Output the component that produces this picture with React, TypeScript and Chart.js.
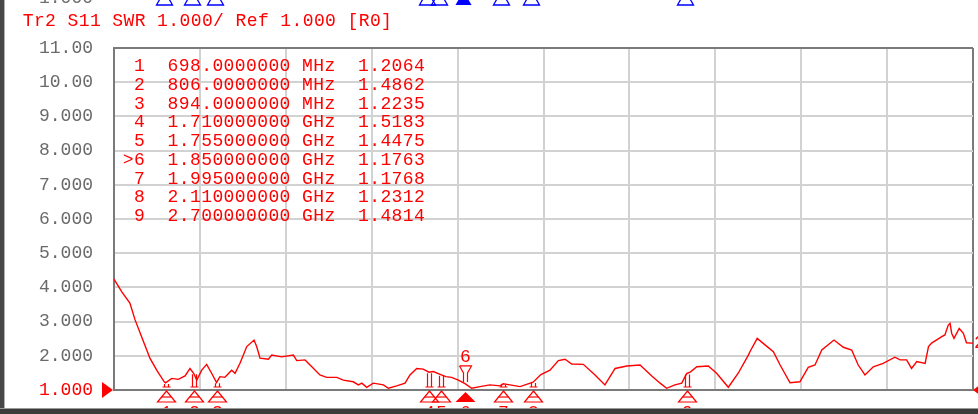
import React, { useEffect, useRef } from "react";
import { Chart, registerables } from "chart.js";

Chart.register(...registerables);

// ---- data ----
const titleText = "Tr2 S11 SWR 1.000/ Ref 1.000 [R0]";

const freqGHz = [
  0.5, 0.53, 0.561, 0.581, 0.606, 0.638, 0.664, 0.693, 0.698, 0.722, 0.747, 0.773, 0.792, 0.806,
  0.818, 0.837, 0.856, 0.875, 0.894, 0.907, 0.926, 0.952, 0.965, 0.984, 1.01, 1.038, 1.048, 1.061,
  1.093, 1.106, 1.144, 1.189, 1.202, 1.234, 1.26, 1.291, 1.317, 1.356, 1.381, 1.419, 1.439, 1.452,
  1.471, 1.496, 1.535, 1.554, 1.586, 1.618, 1.637, 1.663, 1.688, 1.71, 1.727, 1.755, 1.775, 1.797,
  1.823, 1.85, 1.874, 1.906, 1.944, 1.983, 1.995, 2.021, 2.06, 2.11, 2.14, 2.175, 2.207, 2.233,
  2.258, 2.303, 2.348, 2.386, 2.425, 2.47, 2.521, 2.566, 2.598, 2.623, 2.655, 2.681, 2.7, 2.715,
  2.739, 2.783, 2.815, 2.86, 2.898, 2.937, 2.943, 2.971, 3.001, 3.033, 3.059, 3.097, 3.135, 3.167,
  3.193, 3.219, 3.266, 3.302, 3.334, 3.359, 3.385, 3.417, 3.455, 3.5, 3.52, 3.545, 3.564, 3.584,
  3.616, 3.629, 3.641, 3.68, 3.692, 3.705, 3.712, 3.718, 3.727, 3.747, 3.763, 3.775, 3.795, 3.8,
];
const swrValues = [
  4.24, 3.87, 3.54, 3.05, 2.56, 1.93, 1.58, 1.24, 1.21, 1.34, 1.31, 1.41, 1.63, 1.49,
  1.29, 1.58, 1.75, 1.49, 1.22, 1.39, 1.37, 1.58, 1.49, 1.78, 2.27, 2.46, 2.27, 1.93,
  1.9, 2.02, 1.97, 2.02, 1.86, 1.88, 1.68, 1.44, 1.37, 1.37, 1.29, 1.24, 1.15, 1.2,
  1.08, 1.2, 1.15, 1.05, 1.12, 1.2, 1.44, 1.63, 1.61, 1.52, 1.54, 1.45, 1.39, 1.37,
  1.29, 1.18, 1.05, 1.1, 1.15, 1.12, 1.18, 1.15, 1.1, 1.23, 1.45, 1.58, 1.86, 1.9,
  1.76, 1.75, 1.44, 1.15, 1.63, 1.7, 1.73, 1.41, 1.2, 1.05, 1.15, 1.2, 1.48, 1.53,
  1.68, 1.7, 1.49, 1.08, 1.49, 2.02, 2.12, 2.51, 2.32, 2.12, 1.73, 1.21, 1.24, 1.66,
  1.73, 2.17, 2.46, 2.25, 2.17, 1.73, 1.44, 1.68, 1.78, 1.96, 1.88, 1.88, 1.63, 1.83,
  1.78, 2.27, 2.37, 2.56, 2.61, 2.9, 2.95, 2.66, 2.51, 2.8, 2.66, 2.38, 2.37, 2.37,
];

const markerLabels = ["1", "2", "3", "4", "5", "6", "7", "8", "9"];
const markerFreqGHz = [0.698, 0.806, 0.894, 1.71, 1.755, 1.85, 1.995, 2.11, 2.7];
const markerFreqText = [
  "698.0000000", "806.0000000", "894.0000000", "1.710000000", "1.755000000",
  "1.850000000", "1.995000000", "2.110000000", "2.700000000",
];
const markerUnits = ["MHz", "MHz", "MHz", "GHz", "GHz", "GHz", "GHz", "GHz", "GHz"];
const markerSWR = [1.2064, 1.4862, 1.2235, 1.5183, 1.4475, 1.1763, 1.1768, 1.2312, 1.4814];
const markerSWRText = ["1.2064", "1.4862", "1.2235", "1.5183", "1.4475", "1.1763", "1.1768", "1.2312", "1.4814"];
const activeMarker = "6";

const yTickValues = [1, 2, 3, 4, 5, 6, 7, 8, 9, 10, 11];
const yTickLabels = ["1.000", "2.000", "3.000", "4.000", "5.000", "6.000", "7.000", "8.000", "9.000", "10.00", "11.00"];
const xGridTicks = [0.5, 0.83, 1.16, 1.49, 1.82, 2.15, 2.48, 2.81, 3.14, 3.47, 3.8];

const MONO = '"Liberation Mono", "DejaVu Sans Mono", monospace';
const FONT_SIZE = 18;
const RED = "#ff0000";
const PITCH = 11.2;

function drawMono(ctx: CanvasRenderingContext2D, text: string, x: number, baseline: number, color: string) {
  ctx.save();
  ctx.font = `${FONT_SIZE}px ${MONO}`;
  ctx.fillStyle = color;
  ctx.textAlign = "center";
  ctx.textBaseline = "alphabetic";
  for (let i = 0; i < text.length; i++) {
    const ch = text[i];
    if (ch !== " ") ctx.fillText(ch, x + i * PITCH + PITCH / 2, baseline);
  }
  ctx.restore();
}

const decorPlugin = {
  id: "vnaDecor",
  beforeDraw(chart: any) {
    const ctx = chart.ctx as CanvasRenderingContext2D;
    ctx.save();
    ctx.fillStyle = "#ffffff";
    ctx.fillRect(0, 0, chart.width, chart.height);
    ctx.restore();
  },
  afterDraw(chart: any) {
    const ctx = chart.ctx as CanvasRenderingContext2D;
    const xs = chart.scales.x;
    const ys = chart.scales.y;
    const area = chart.chartArea;

    // title
    drawMono(ctx, titleText, 22.5, 26, RED);

    // cut-off label of panel above
    ctx.save();
    ctx.font = `${FONT_SIZE}px ${MONO}`;
    ctx.fillStyle = "#707070";
    ctx.textAlign = "right";
    ctx.fillText("1.000", 93, 3);
    ctx.restore();

    // marker table
    for (let i = 0; i < markerLabels.length; i++) {
      const lab = (markerLabels[i] === activeMarker ? ">" + markerLabels[i] : markerLabels[i]).padStart(2, " ");
      const row = `${lab}  ${markerFreqText[i]} ${markerUnits[i]}  ${markerSWRText[i]}`;
      drawMono(ctx, row, 122.6, 71 + i * 18.75, RED);
    }

    // reference-level triangle (left) and right edge marker
    const yRef = ys.getPixelForValue(1);
    ctx.save();
    ctx.fillStyle = RED;
    ctx.beginPath();
    ctx.moveTo(102, yRef - 8);
    ctx.lineTo(113, yRef);
    ctx.lineTo(102, yRef + 8);
    ctx.closePath();
    ctx.fill();
    ctx.beginPath();
    ctx.moveTo(973, yRef);
    ctx.lineTo(981, yRef - 6);
    ctx.lineTo(981, yRef + 6);
    ctx.closePath();
    ctx.fill();
    ctx.restore();
    // trace label at right edge
    ctx.save();
    ctx.font = `${FONT_SIZE}px ${MONO}`;
    ctx.fillStyle = RED;
    ctx.textAlign = "left";
    ctx.textBaseline = "middle";
    ctx.fillText("2", 974, ys.getPixelForValue(2.37));
    ctx.restore();

    // markers
    ctx.save();
    ctx.strokeStyle = RED;
    ctx.fillStyle = RED;
    ctx.lineWidth = 1.2;
    const bottom = area.bottom;
    for (let i = 0; i < markerLabels.length; i++) {
      const px = Math.round(xs.getPixelForValue(markerFreqGHz[i])) + 0.5;
      const py = ys.getPixelForValue(markerSWR[i]);
      const active = markerLabels[i] === activeMarker;
      if (active) {
        ctx.beginPath();
        ctx.moveTo(px, bottom + 2);
        ctx.lineTo(px + 10, bottom + 12);
        ctx.lineTo(px - 10, bottom + 12);
        ctx.closePath();
        ctx.fill();
        // marker flag above trace
        ctx.beginPath();
        ctx.moveTo(px - 6, py - 18);
        ctx.lineTo(px + 6, py - 18);
        ctx.lineTo(px + 2, py - 11);
        ctx.lineTo(px + 2, py - 2);
        ctx.moveTo(px - 6, py - 18);
        ctx.lineTo(px - 2, py - 11);
        ctx.lineTo(px - 2, py - 2);
        ctx.stroke();
        ctx.font = `${FONT_SIZE}px ${MONO}`;
        ctx.textAlign = "center";
        ctx.textBaseline = "alphabetic";
        ctx.fillText(markerLabels[i], px, py - 22);
      } else {
        ctx.beginPath();
        ctx.moveTo(px - 2, py + 1);
        ctx.lineTo(px - 2, bottom - 3);
        ctx.moveTo(px + 2, py + 1);
        ctx.lineTo(px + 2, bottom - 3);
        ctx.moveTo(px - 4, bottom - 3);
        ctx.lineTo(px + 4, bottom - 3);
        ctx.stroke();
        ctx.beginPath();
        ctx.moveTo(px, bottom + 1);
        ctx.lineTo(px + 9, bottom + 12);
        ctx.lineTo(px - 9, bottom + 12);
        ctx.closePath();
        ctx.stroke();
        ctx.beginPath();
        ctx.moveTo(px - 5, bottom + 7);
        ctx.lineTo(px + 5, bottom + 7);
        ctx.stroke();
      }
      ctx.font = `${FONT_SIZE}px ${MONO}`;
      ctx.textAlign = "center";
      ctx.textBaseline = "top";
      ctx.fillText(markerLabels[i], px, bottom + 14);
    }
    ctx.restore();

    // Tr1 markers cut off at top (blue)
    ctx.save();
    ctx.strokeStyle = "#0000ff";
    ctx.fillStyle = "#0000ff";
    ctx.lineWidth = 1.3;
    for (let i = 0; i < markerLabels.length; i++) {
      const px = Math.round(xs.getPixelForValue(markerFreqGHz[i])) - 2 + 0.5;
      ctx.beginPath();
      ctx.moveTo(px - 8, 5);
      ctx.lineTo(px + 8, 5);
      ctx.lineTo(px, -9);
      ctx.closePath();
      if (markerLabels[i] === activeMarker) ctx.fill();
      else ctx.stroke();
    }
    ctx.restore();

    // window frame
    ctx.save();
    ctx.fillStyle = "#474747";
    ctx.fillRect(0, 0, 4, 409);
    ctx.fillStyle = "#b0b0b0";
    ctx.fillRect(4, 0, 1, 409);
    ctx.fillStyle = "#3c3c3c";
    ctx.fillRect(0, 409, chart.width, 5);
    ctx.fillStyle = "#9a9a9a";
    ctx.fillRect(0, 408, chart.width, 1);
    ctx.restore();
  },
};

export default function App() {
  const canvasRef = useRef<HTMLCanvasElement | null>(null);

  useEffect(() => {
    const canvas = canvasRef.current;
    if (!canvas) return;
    const chart = new Chart(canvas, {
      type: "line",
      data: {
        datasets: [
          {
            data: freqGHz.map((f, i) => ({ x: f, y: swrValues[i] })),
            borderColor: RED,
            borderWidth: 1.4,
            pointRadius: 0,
            tension: 0,
            fill: false,
          },
        ],
      },
      options: {
        responsive: false,
        animation: false,
        events: [],
        layout: { padding: { left: 0, top: 48, right: 5, bottom: 24 } },
        plugins: { legend: { display: false }, tooltip: { enabled: false }, title: { display: false } },
        scales: {
          x: {
            type: "linear",
            min: 0.5,
            max: 3.8,
            afterBuildTicks: (scale: any) => {
              scale.ticks = xGridTicks.map((v) => ({ value: v }));
            },
            afterFit: (scale: any) => {
              scale.height = 0;
              scale.paddingLeft = 0;
              scale.paddingRight = 0;
            },
            ticks: { display: false },
            grid: {
              drawTicks: false,
              lineWidth: 2,
              color: (c: any) => (c.tick && c.tick.value >= 3.8 ? "#7a7a7a" : "#d2d2d2"),
            },
            border: { display: true, color: "#7a7a7a", width: 2 },
          },
          y: {
            type: "linear",
            min: 1,
            max: 11,
            afterBuildTicks: (scale: any) => {
              scale.ticks = yTickValues.map((v) => ({ value: v }));
            },
            afterFit: (scale: any) => {
              scale.width = 114;
              scale.paddingTop = 0;
              scale.paddingBottom = 0;
            },
            ticks: {
              padding: 21,
              font: { family: MONO, size: FONT_SIZE },
              color: (c: any) => (c.tick && c.tick.value === 1 ? RED : "#6a6a6a"),
              callback: (v: any) => {
                const idx = yTickValues.indexOf(Number(v));
                return idx >= 0 ? yTickLabels[idx] : "";
              },
            },
            grid: {
              drawTicks: false,
              lineWidth: 2,
              color: (c: any) => (c.tick && c.tick.value >= 11 ? "#7a7a7a" : "#d2d2d2"),
            },
            border: { display: true, color: "#7a7a7a", width: 2 },
          },
        },
      },
      plugins: [decorPlugin],
    });
    return () => chart.destroy();
  }, []);

  return (
    <div style={{ position: "fixed", left: 0, top: 0, width: 978, height: 414, background: "#fff" }}>
      <canvas ref={canvasRef} width={978} height={414} style={{ display: "block", width: 978, height: 414 }} />
    </div>
  );
}
